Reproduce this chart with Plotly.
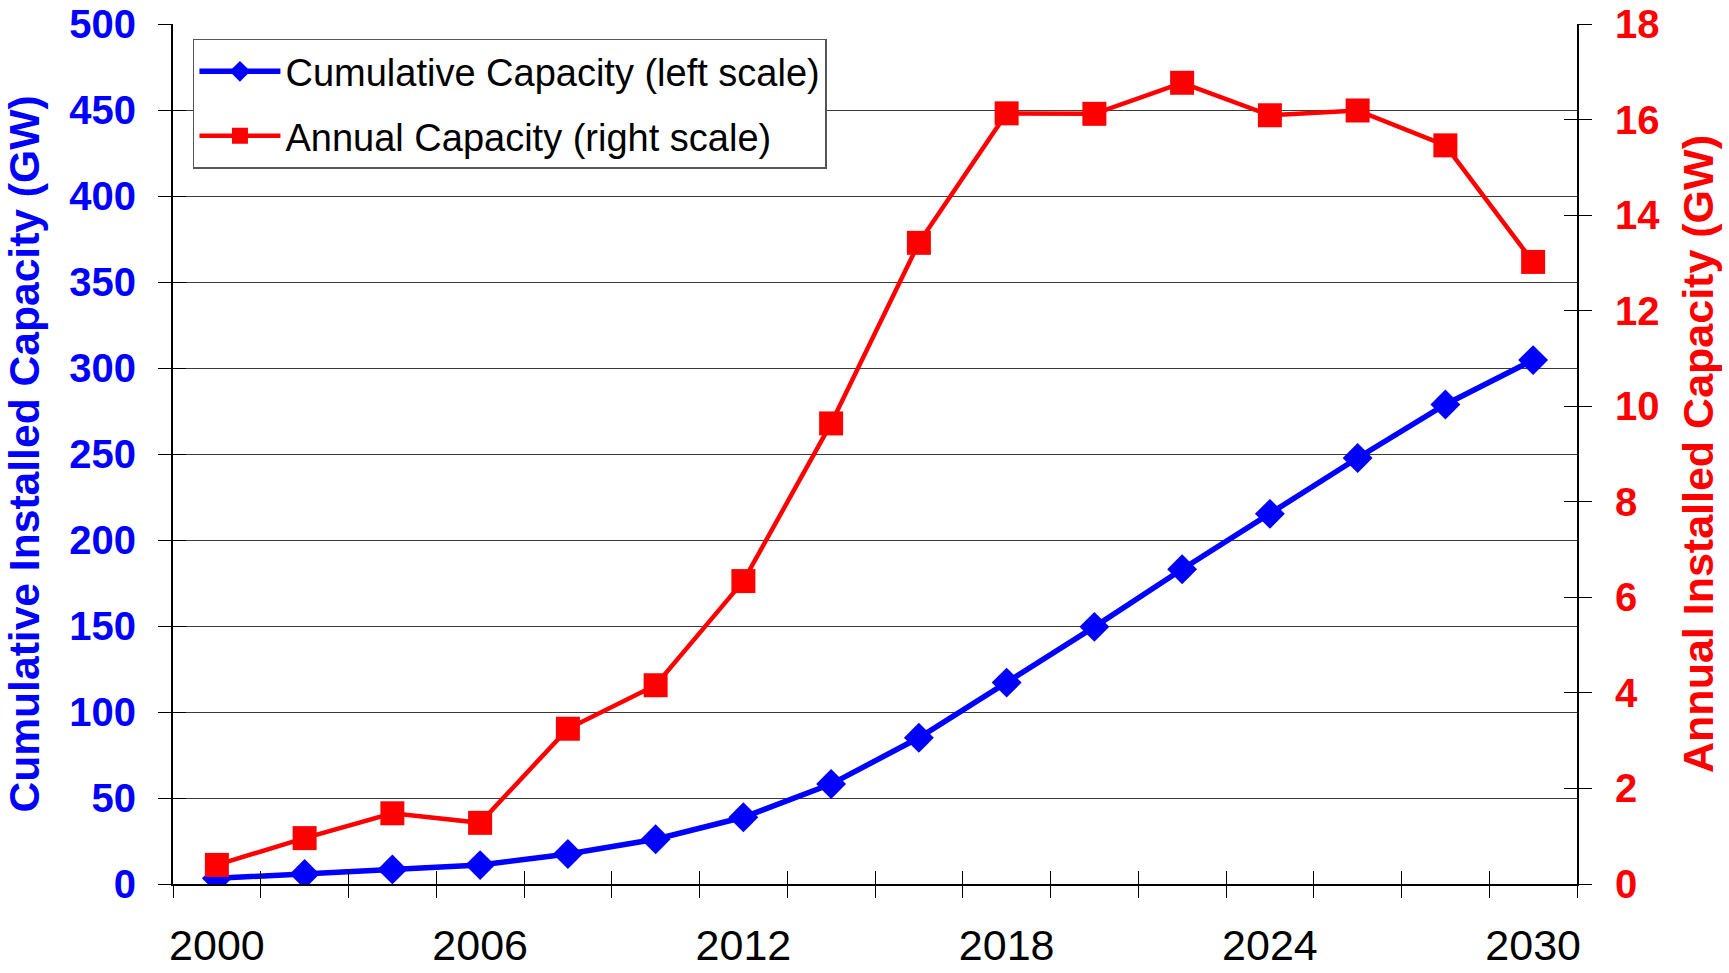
import plotly.graph_objects as go

# Installed capacity, two-year steps
years = [2000, 2002, 2004, 2006, 2008, 2010, 2012, 2014,
         2016, 2018, 2020, 2022, 2024, 2026, 2028, 2030]
cumulative_gw = [3.3, 5.8, 8.5, 11.0, 17.4, 26.0, 38.8, 58.1,
                 85.0, 117.1, 149.5, 183.0, 215.2, 247.7, 278.8, 304.6]
annual_gw = [0.40, 0.96, 1.48, 1.28, 3.25, 4.16, 6.34, 9.64,
             13.42, 16.13, 16.12, 16.77, 16.09, 16.19, 15.46, 13.02]
label_years = [2000, 2006, 2012, 2018, 2024, 2030]
left_ticks = list(range(0, 501, 50))
right_ticks = list(range(0, 19, 2))

BLUE = "#0000FF"
RED = "#FF0000"
SANS = "Liberation Sans, Arial, sans-serif"

idx = list(range(len(years)))
label_pos = [years.index(y) for y in label_years]
bounds = [i - 0.5 for i in range(len(years) + 1)]
xrange_ = [-0.5, len(years) - 0.5]

fig = go.Figure()

fig.add_trace(go.Scatter(
    x=idx, y=cumulative_gw, name="Cumulative Capacity (left scale)",
    mode="lines+markers", xaxis="x", yaxis="y", legendgroup="cum",
    line=dict(color=BLUE, width=5.5),
    marker=dict(symbol="diamond", size=23, color=BLUE),
))
fig.add_trace(go.Scatter(
    x=idx, y=annual_gw, name="Annual Capacity (right scale)",
    mode="lines+markers", xaxis="x", yaxis="y2", legendgroup="ann",
    line=dict(color=RED, width=4.5),
    marker=dict(symbol="square", size=24, color=RED),
))

# empty traces so the tick-only overlay axes get drawn
for xa, ya in [("x2", "y"), ("x3", "y"), ("x", "y3"), ("x", "y4")]:
    fig.add_trace(go.Scatter(x=[None], y=[None], xaxis=xa, yaxis=ya,
                             showlegend=False, hoverinfo="skip"))

tick_common = dict(showgrid=False, zeroline=False, showline=False,
                   showticklabels=False, tickcolor="black", tickwidth=1.3,
                   ticklen=13, automargin=False)

fig.update_layout(
    width=1729, height=973,
    margin=dict(l=173, r=152, t=24, b=89),
    paper_bgcolor="white", plot_bgcolor="white",
    showlegend=True,
    legend=dict(
        x=0.0142, y=0.983, xanchor="left", yanchor="top",
        bgcolor="white", bordercolor="#555555", borderwidth=1.5,
        font=dict(family=SANS, size=38, color="black"),
        traceorder="grouped", tracegroupgap=12, itemwidth=81,
    ),
    xaxis=dict(
        range=xrange_, tickmode="array", tickvals=label_pos,
        ticktext=[str(y) for y in label_years], ticks="",
        showgrid=False, zeroline=False, automargin=False,
        showline=True, linecolor="black", linewidth=2,
        tickfont=dict(family=SANS, size=43, color="black"),
        ticklabelstandoff=22,
    ),
    xaxis2=dict(overlaying="x", anchor="y", range=xrange_,
                tickmode="array", tickvals=bounds, ticks="outside",
                **tick_common),
    xaxis3=dict(overlaying="x", anchor="y", range=xrange_,
                tickmode="array", tickvals=bounds, ticks="inside",
                **tick_common),
    yaxis=dict(
        range=[0, 500], tickmode="array", tickvals=left_ticks,
        ticks="outside", ticklen=13, tickcolor="black", tickwidth=1.3,
        showgrid=True, gridcolor="#3a3a3a", gridwidth=1.2,
        zeroline=False, showline=True, linecolor="black", linewidth=2,
        automargin=False,
        tickfont=dict(family=SANS, size=40, color=BLUE, weight="bold"),
        ticklabelstandoff=14,
        title=dict(text="Cumulative Installed Capacity (GW)",
                   font=dict(family=SANS, size=42.6, color=BLUE, weight="bold"),
                   standoff=18),
    ),
    yaxis3=dict(overlaying="y", anchor="x", side="left", range=[0, 500],
                tickmode="array", tickvals=left_ticks, ticks="inside",
                **tick_common),
    yaxis2=dict(
        overlaying="y", anchor="x", side="right",
        range=[0, 18], tickmode="array", tickvals=right_ticks,
        ticks="outside", ticklen=13, tickcolor="black", tickwidth=1.3,
        showgrid=False, zeroline=False, automargin=False,
        showline=True, linecolor="black", linewidth=2,
        tickfont=dict(family=SANS, size=40, color=RED, weight="bold"),
        ticklabelstandoff=15,
        title=dict(text="Annual Installed Capacity (GW)",
                   font=dict(family=SANS, size=43, color=RED, weight="bold"),
                   standoff=24),
    ),
    yaxis4=dict(overlaying="y", anchor="x", side="right", range=[0, 18],
                tickmode="array", tickvals=right_ticks, ticks="inside",
                **tick_common),
)

fig.write_html("out.html")
